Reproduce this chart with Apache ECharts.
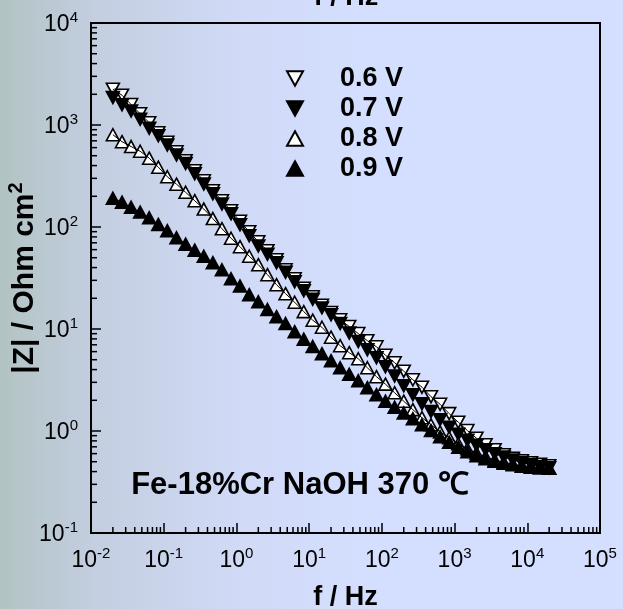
<!DOCTYPE html>
<html><head><meta charset="utf-8">
<script src="https://cdn.jsdelivr.net/npm/echarts@6/dist/echarts.min.js"></script>
<style>
html,body{margin:0;padding:0;width:623px;height:609px;overflow:hidden;
background:linear-gradient(to right,#b2c3c3 0%,#c3cee0 15%,#d1dbf8 40%,#d4defe 60%,#d4defe 100%);}
#c{width:623px;height:609px;}
</style>
</head><body><div id="c"></div>
<script>
// frequency sweep (Hz)
const freq = [0.02,0.0267,0.0356,0.0474,0.0632,0.0843,0.112,0.15,
  0.2,0.267,0.356,0.474,0.632,0.843,1.12,1.5,
  2,2.67,3.56,4.74,6.32,8.43,11.2,15,
  20,26.7,35.6,47.4,63.2,84.3,112,150,
  200,267,356,474,632,843,1125,1500,
  2000,2667,3557,4743,6325,8434,11247,14998,20000];
// |Z| (Ohm cm^2)
const z06 = [2244,1959,1588,1291,1054,841,678,547,447,356,284,227,181,144.5,114,89.9,71.8,58.6,47.8,38.1,31.1,25.1,20.7,17.1,14.5,12.3,10.6,9.03,7.68,6.70,5.54,4.67,3.86,3.18,2.69,2.17,1.83,1.48,1.22,1.01,0.85,0.734,0.656,0.586,0.541,0.511,0.489,0.473,0.457];
const z07 = [1862,1581,1371,1140,931,785,637,509,418,332,264,212,168,135,105,82.2,65.1,54.1,44.7,35.9,29.1,23.7,19.6,16.1,13.8,11.3,9.14,7.54,6.27,5.23,4.27,3.45,2.78,2.27,1.85,1.55,1.29,1.09,0.93,0.81,0.726,0.656,0.599,0.556,0.520,0.491,0.467,0.449,0.437];
const z08 = [803,686,615,553,473,386,311,263,219,181,150,121,96.2,77.6,64.1,51.7,42.7,34.1,27.2,22.2,18.3,14.8,12.2,10.4,8.31,6.86,5.86,5.11,4.17,3.41,2.88,2.37,1.96,1.62,1.35,1.15,0.98,0.86,0.75,0.67,0.61,0.56,0.52,0.494,0.473,0.457,0.447,0.437,0.432];
const z09 = [191,175,156,140,123,106,92,78.5,67.8,59.3,51.7,44.7,38.1,31.1,26.4,21.7,18.5,15.5,13.2,11.3,9.41,7.94,6.73,5.73,4.89,4.17,3.60,3.11,2.66,2.27,1.96,1.71,1.50,1.32,1.15,1.01,0.88,0.777,0.694,0.627,0.573,0.535,0.506,0.483,0.467,0.452,0.442,0.437,0.432];
const seriesNames = ['0.6 V','0.7 V','0.8 V','0.9 V'];
const xTickLabels = ['10-2','10-1','100','101','102','103','104','105'];
const yTickLabels = ['10-1','100','101','102','103','104'];
const annotation = 'Fe-18%Cr NaOH 370 \u2103';

const FONT = 'Liberation Sans, Arial, sans-serif';
const DOWN = 'path://M0,0L20,0L10,18Z';
const UP = 'path://M10,0L20,18L0,18Z';

function pairs(z){ return freq.map((f,i)=>[f,z[i]]); }
const allZ = [z06,z07,z08,z09];
const symbols = [DOWN,DOWN,UP,UP];
const fills = ['#ffffff','#000000','#ffffff','#000000'];

// minor tick values (2..9 x 10^n)
const xMinor=[], yMinor=[];
for(let e=-2;e<5;e++) for(let m=2;m<10;m++) xMinor.push([m*Math.pow(10,e),0.1]);
for(let e=-1;e<4;e++) for(let m=2;m<10;m++) yMinor.push([0.01,m*Math.pow(10,e)]);

const sup = v => { const e=Math.round(Math.log10(v)); return '{b|10}{s|'+e+'}'; };
const labelRich = {
  b:{fontSize:23,fontFamily:FONT,color:'#000',lineHeight:26,verticalAlign:'bottom'},
  s:{fontSize:15,fontFamily:FONT,color:'#000',verticalAlign:'top',lineHeight:26}
};

const series = [];
allZ.forEach((z,i)=>{
  series.push({
    name: seriesNames[i], type:'scatter', data: pairs(z),
    symbol: symbols[i], symbolSize:[13,12], z: 2+i,
    itemStyle:{color:fills[i], borderColor:'#000', borderWidth:1.6, opacity:1}
  });
});
allZ.forEach((z,i)=>{
  series.push({
    name:'fit'+i, type:'line', data: pairs(z), showSymbol:false, symbol:'none',
    smooth:false, z: 10, silent:true,
    lineStyle:{color:'#000', width:1}
  });
});
series.push({
  type:'custom', name:'xminor', data:xMinor, z:11, silent:true,
  renderItem:(p,api)=>{ const c=api.coord([api.value(0),0.1]);
    return {type:'line',shape:{x1:c[0],y1:c[1],x2:c[0],y2:c[1]-6},style:{stroke:'#000',lineWidth:1.5}}; }
});
series.push({
  type:'custom', name:'yminor', data:yMinor, z:11, silent:true,
  renderItem:(p,api)=>{ const c=api.coord([0.01,api.value(1)]);
    return {type:'line',shape:{x1:c[0],y1:c[1],x2:c[0]+6,y2:c[1]},style:{stroke:'#000',lineWidth:1.5}}; }
});

const chart = echarts.init(document.getElementById('c'), null, {renderer:'canvas'});
chart.setOption({
  backgroundColor:'transparent',
  animation:false,
  grid:{left:91,right:23,top:23,bottom:76,containLabel:false,outerBoundsMode:'none',
    show:true,borderColor:'#000',borderWidth:2,backgroundColor:'transparent'},
  xAxis:{type:'log',logBase:10,min:0.01,max:100000,
    name:'f / Hz', nameLocation:'middle', nameGap:51, nameMoveOverlap:false,
    nameTextStyle:{fontSize:27,fontWeight:'bold',fontFamily:FONT,color:'#000'},
    axisLine:{lineStyle:{color:'#000',width:2}},
    axisTick:{inside:true,length:10,lineStyle:{color:'#000',width:1.5}},
    minorTick:{show:false}, splitLine:{show:false},
    axisLabel:{margin:13,formatter:sup,rich:labelRich,showMinLabel:true,showMaxLabel:true}
  },
  yAxis:{type:'log',logBase:10,min:0.1,max:10000,
    name:'{a||Z| / Ohm cm}{s|2}', nameLocation:'middle', nameGap:51, nameRotate:90, nameMoveOverlap:false,
    nameTextStyle:{rich:{
      a:{fontSize:30,fontWeight:'bold',fontFamily:FONT,color:'#000',lineHeight:34,verticalAlign:'bottom'},
      s:{fontSize:20,fontWeight:'bold',fontFamily:FONT,color:'#000',verticalAlign:'top',lineHeight:34}}},
    axisLine:{lineStyle:{color:'#000',width:2}},
    axisTick:{inside:true,length:10,lineStyle:{color:'#000',width:1.5}},
    minorTick:{show:false}, splitLine:{show:false},
    axisLabel:{margin:13,formatter:sup,rich:labelRich,showMinLabel:true,showMaxLabel:true}
  },
  legend:{orient:'vertical',left:281,top:60,itemWidth:16,itemHeight:15,itemGap:3,
    selectedMode:false, data:seriesNames,
    textStyle:{fontSize:27,fontWeight:'bold',fontFamily:FONT,color:'#000',padding:[0,0,0,32]}
  },
  graphic:[
    {type:'text', z:20, position:[346,-2],
     style:{text:'f / Hz',x:0,y:0,align:'center',verticalAlign:'middle',fontSize:27,fontWeight:'bold',fontFamily:FONT,fill:'#000'}},
    {type:'text', z:20, position:[300,485],
     style:{text:annotation,x:0,y:0,align:'center',verticalAlign:'middle',fontSize:31,fontWeight:'bold',fontFamily:FONT,fill:'#000'}}
  ],
  series: series
});
</script></body></html>
